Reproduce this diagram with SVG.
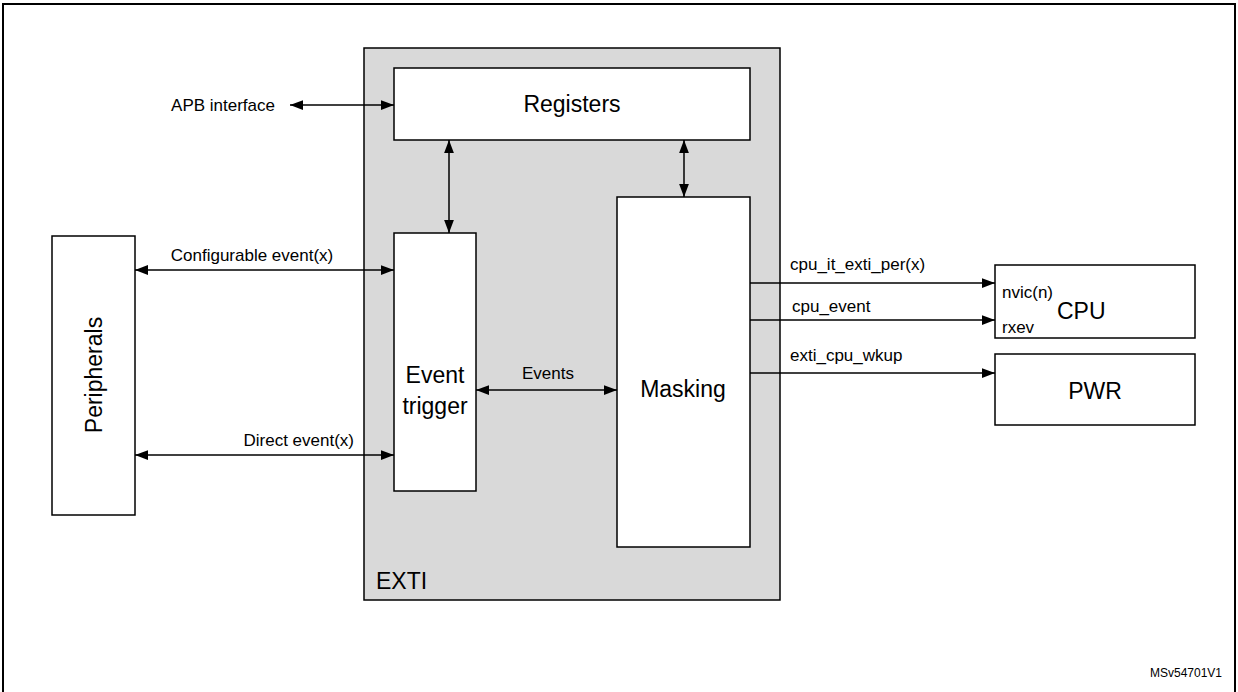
<svg xmlns="http://www.w3.org/2000/svg" width="1238" height="692" viewBox="0 0 1238 692">
<style>
text{font-family:"Liberation Sans",Arial,sans-serif;fill:#000}
.b{fill:#fff;stroke:#000;stroke-width:1.5}
.l{stroke:#000;stroke-width:1.5;fill:none}
.s{font-size:17px}
.m{font-size:23px}
</style>
<defs>
<marker id="a" viewBox="0 0 12 10" refX="12" refY="5" markerWidth="13" markerHeight="11" markerUnits="userSpaceOnUse" orient="auto-start-reverse"><path d="M0,0.5 L12,5 L0,9.5z" fill="#000"/></marker>
</defs>
<rect width="1238" height="692" fill="#fff"/>
<path d="M3,692 V4 H1235 V692" fill="none" stroke="#000" stroke-width="2"/>
<g id="exti"><rect x="364" y="48" width="416" height="552" fill="#d9d9d9" stroke="#000" stroke-width="1.5"/><text x="376" y="589" class="m">EXTI</text></g>
<g id="registers"><rect class="b" x="394" y="68" width="356" height="72"/><text x="572" y="112" class="m" text-anchor="middle">Registers</text></g>
<g id="event-trigger"><rect class="b" x="394" y="233" width="82" height="258"/><text x="435" y="383" class="m" text-anchor="middle">Event</text><text x="435" y="414" class="m" text-anchor="middle">trigger</text></g>
<g id="masking"><rect class="b" x="617" y="197" width="133" height="350"/><text x="683" y="397" class="m" text-anchor="middle">Masking</text></g>
<g id="peripherals"><rect class="b" x="52" y="236" width="83" height="279"/><text transform="translate(102,375) rotate(-90)" class="m" text-anchor="middle">Peripherals</text></g>
<g id="cpu"><rect class="b" x="995" y="265" width="200" height="73"/><text x="1002" y="298" class="s">nvic(n)</text><text x="1002" y="333" class="s">rxev</text><text x="1057" y="319" class="m">CPU</text></g>
<g id="pwr"><rect class="b" x="995" y="354" width="200" height="71"/><text x="1095" y="399" class="m" text-anchor="middle">PWR</text></g>
<g id="connectors">
<line class="l" x1="290" y1="105" x2="394" y2="105" marker-start="url(#a)" marker-end="url(#a)"/>
<line class="l" x1="449" y1="140" x2="449" y2="233" marker-start="url(#a)" marker-end="url(#a)"/>
<line class="l" x1="684" y1="140" x2="684" y2="197" marker-start="url(#a)" marker-end="url(#a)"/>
<line class="l" x1="135" y1="270" x2="394" y2="270" marker-start="url(#a)" marker-end="url(#a)"/>
<line class="l" x1="135" y1="455" x2="394" y2="455" marker-start="url(#a)" marker-end="url(#a)"/>
<line class="l" x1="476" y1="390" x2="617" y2="390" marker-start="url(#a)" marker-end="url(#a)"/>
<line class="l" x1="750" y1="283" x2="995" y2="283" marker-end="url(#a)"/>
<line class="l" x1="750" y1="320" x2="995" y2="320" marker-end="url(#a)"/>
<line class="l" x1="750" y1="373" x2="995" y2="373" marker-end="url(#a)"/>
</g>
<g id="labels">
<text x="275" y="111" class="s" text-anchor="end">APB interface</text>
<text x="252" y="261" class="s" text-anchor="middle">Configurable event(x)</text>
<text x="354" y="446" class="s" text-anchor="end">Direct event(x)</text>
<text x="522" y="379" class="s">Events</text>
<text x="790" y="270" class="s">cpu_it_exti_per(x)</text>
<text x="792" y="312" class="s">cpu_event</text>
<text x="790" y="361" class="s">exti_cpu_wkup</text>
<text x="1222" y="677" font-size="12" text-anchor="end">MSv54701V1</text>
</g>
</svg>
